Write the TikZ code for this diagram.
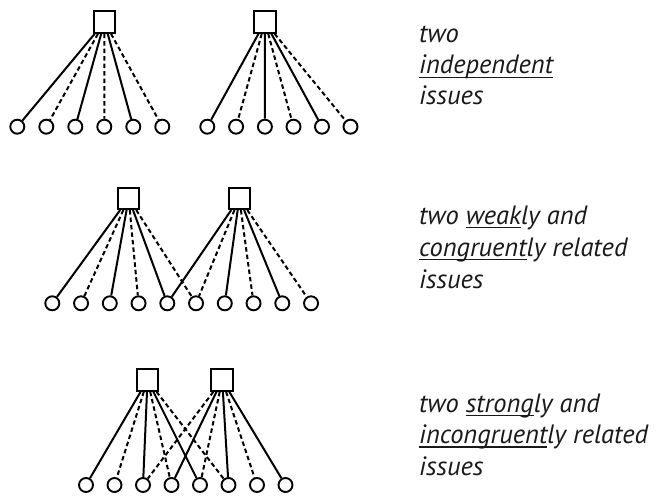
\documentclass[tikz,border=0pt]{standalone}
\usepackage{fontspec}
\setmainfont{PT Sans}
\newcommand\ulx[1]{\setbox0\hbox{#1}\rlap{\rule[-4pt]{\wd0}{1.3pt}}\box0}
\begin{document}
\begin{tikzpicture}[x=1pt,y=-1pt,
  sq/.style={draw,line width=2pt,minimum size=21.5pt,inner sep=0pt},
  ci/.style={draw,circle,line width=1.9pt,minimum size=14pt,inner sep=0pt},
  sl/.style={line width=2pt},
  dl/.style={line width=2pt,dash pattern=on 4.5pt off 3pt},
  lbl/.style={anchor=base west,inner sep=0pt,font=\fontsize{26.5}{30}\selectfont\itshape,text=black!90}]
\useasboundingbox (0,0) rectangle (656,497);
% Row 1
\node[sq] (a1) at (104.5,22) {};
\node[sq] (a2) at (265,22) {};
\foreach \i/\x in {1/17.3,2/46.3,3/75.3,4/104.3,5/133.3,6/162.3}{\node[ci] (p\i) at (\x,126.7) {};}
\foreach \i/\x in {1/207.3,2/236.1,3/264.9,4/293.5,5/322,6/350.5}{\node[ci] (q\i) at (\x,126.7) {};}
\draw[sl] (a1)--(p1); \draw[dl] (a1)--(p2); \draw[sl] (a1)--(p3);
\draw[dl] (a1)--(p4); \draw[sl] (a1)--(p5); \draw[dl] (a1)--(p6);
\draw[sl] (a2)--(q1); \draw[dl] (a2)--(q2); \draw[sl] (a2)--(q3);
\draw[dl] (a2)--(q4); \draw[sl] (a2)--(q5); \draw[dl] (a2)--(q6);
% Row 2
\node[sq] (b1) at (128.7,198.3) {};
\node[sq] (b2) at (239.3,198.3) {};
\foreach \i in {1,...,10}{\node[ci] (r\i) at ({52.3+28.75*(\i-1)},303.3) {};}
\draw[sl] (b1)--(r1); \draw[dl] (b1)--(r2); \draw[sl] (b1)--(r3);
\draw[dl] (b1)--(r4); \draw[sl] (b1)--(r5); \draw[dl] (b1)--(r6);
\draw[sl] (b2)--(r5); \draw[dl] (b2)--(r6); \draw[sl] (b2)--(r7);
\draw[dl] (b2)--(r8); \draw[sl] (b2)--(r9); \draw[dl] (b2)--(r10);
% Row 3
\node[sq] (c1) at (147.5,380) {};
\node[sq] (c2) at (222.2,380) {};
\foreach \i in {1,...,8}{\node[ci] (s\i) at ({86+28.5*(\i-1)},485) {};}
\draw[sl] (c1)--(s1); \draw[dl] (c1)--(s2); \draw[sl] (c1)--(s3);
\draw[dl] (c1)--(s4); \draw[sl] (c1)--(s5); \draw[dl] (c1)--(s6);
\draw[dl] (c2)--(s3); \draw[sl] (c2)--(s4); \draw[dl] (c2)--(s5);
\draw[sl] (c2)--(s6); \draw[dl] (c2)--(s7); \draw[sl] (c2)--(s8);
% Labels
\node[lbl] (t11) at (419,43) {two};
\node[lbl] (t12) at (419,74) {\ulx{independent}};
\node[lbl] (t13) at (419,105) {issues};
\node[lbl] (t21) at (419,224.5) {two \ulx{weak}ly and};
\node[lbl] (t22) at (419,256.5) {\ulx{congruent}ly related};
\node[lbl] (t23) at (419,288) {issues};
\node[lbl] (t31) at (419,412.3) {two \ulx{strong}ly and};
\node[lbl] (t32) at (419,443.5) {\ulx{incongruent}ly related};
\node[lbl] (t33) at (419,475) {issues};
\end{tikzpicture}
\end{document}
